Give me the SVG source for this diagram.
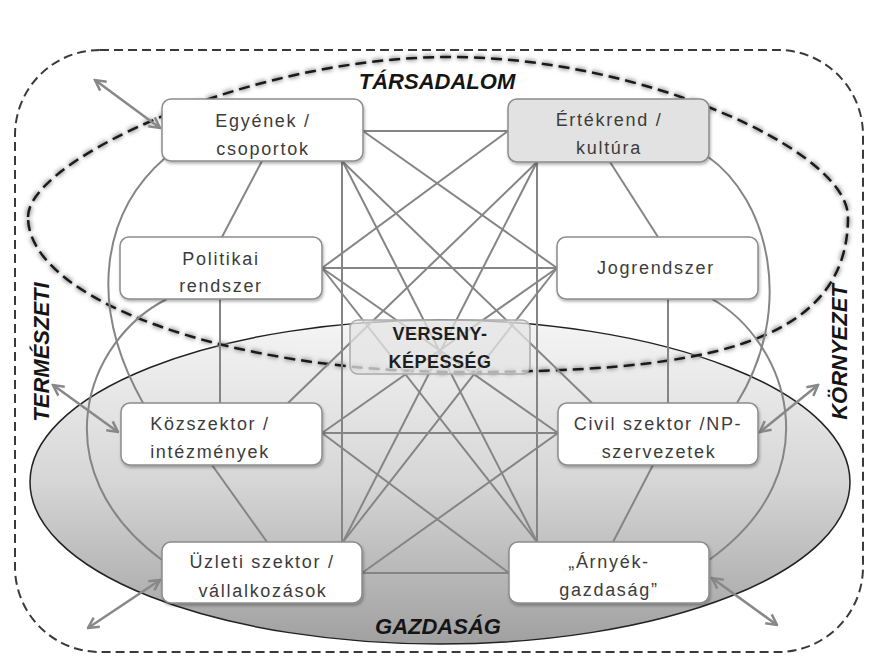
<svg xmlns="http://www.w3.org/2000/svg" width="869" height="662" viewBox="0 0 869 662">
<defs>
<linearGradient id="gz" x1="0" y1="0" x2="0" y2="1">
<stop offset="0" stop-color="#f5f5f5"/>
<stop offset="0.5" stop-color="#d6d6d6"/>
<stop offset="1" stop-color="#a0a0a0"/>
</linearGradient>
<filter id="blur" x="-5%" y="-5%" width="110%" height="110%"><feGaussianBlur stdDeviation="2"/></filter>
<filter id="sh" x="-10%" y="-10%" width="125%" height="135%"><feDropShadow dx="1" dy="2" stdDeviation="1.5" flood-color="#000" flood-opacity="0.3"/></filter>
<marker id="ah" viewBox="0 0 14 14" refX="12.5" refY="7" markerWidth="14" markerHeight="14" markerUnits="userSpaceOnUse" orient="auto-start-reverse">
<path d="M2,1.5 L12.5,7 L2,12.5" fill="none" stroke="#888" stroke-width="2.5"/>
</marker>
<path id="soc" d="M28,217 C28,160 250,57 450,57 C640,57 848,150 848,217 C848,350 690,372 460,372 C230,372 28,300 28,217 Z"/>
<style>
.node rect{fill:#fff;stroke:#8c8c8c;stroke-width:1.5;filter:url(#sh)}
.node text{font-family:"Liberation Sans",Arial,sans-serif;font-size:18px;fill:#3c3c3c;letter-spacing:1.7px;text-anchor:middle}
.conn path{fill:none;stroke:#858585;stroke-width:2}
.arr path{fill:none;stroke:#888;stroke-width:2.5;marker-start:url(#ah);marker-end:url(#ah)}
.big{font-family:"Liberation Sans",Arial,sans-serif;font-weight:bold;font-style:italic;font-size:22px;fill:#151515;text-anchor:middle}
</style>
</defs>
<rect width="869" height="662" fill="#fff"/>
<g id="kornyezet-frame">
<rect x="15" y="50" width="848" height="602" rx="85" ry="85" fill="none" stroke="#3a3a3a" stroke-width="2" stroke-dasharray="9 5"/>
</g>
<g id="gazdasag">
<ellipse cx="440" cy="482" rx="410" ry="162" fill="url(#gz)" stroke="#222" stroke-width="1.5"/>
</g>
<g id="tarsadalom">
<use href="#soc" fill="none" stroke="#999" stroke-width="5" stroke-dasharray="11 6" filter="url(#blur)"/>
<use href="#soc" fill="none" stroke="#1a1a1a" stroke-width="2.5" stroke-dasharray="11 6"/>
</g>
<g id="connectors" class="conn">
<path d="M363,131 H508"/>
<path d="M363,131 L557,268"/>
<path d="M508,131 L322,268"/>
<path d="M322,268 H557"/>
<path d="M342,161 V542"/>
<path d="M537,162 V542"/>
<path d="M343,162 L537,542"/>
<path d="M537,162 L343,542"/>
<path d="M343,162 L592,403"/>
<path d="M537,162 L288,403"/>
<path d="M322,268 L558,433"/>
<path d="M557,268 L322,433"/>
<path d="M322,268 L537,542"/>
<path d="M557,268 L343,542"/>
<path d="M322,433 H558"/>
<path d="M322,433 L509,573"/>
<path d="M558,433 L362,573"/>
<path d="M362,573 H509"/>
<path d="M262,161 L222,237"/>
<path d="M220,299 V403"/>
<path d="M212,465 L267,542"/>
<path d="M610,162 L658,237"/>
<path d="M668,299 V403"/>
<path d="M653,465 L613,542"/>
<path d="M165,158 C105,210 85,300 143,403"/>
<path d="M167,299 C85,340 40,470 162,560"/>
<path d="M707,156 C770,200 795,310 737,403"/>
<path d="M712,299 C785,340 835,470 709,560"/>
</g>
<g id="arrows" class="arr">
<path d="M95,80 L160,128"/>
<path d="M53,385 L118,432"/>
<path d="M88,628 L160,580"/>
<path d="M818,385 L760,432"/>
<path d="M777,625 L712,578"/>
</g>
<g id="egyenek" class="node">
<rect x="162" y="99" width="201" height="62" rx="9"/>
<text x="263" y="127">Egyének /</text>
<text x="263" y="155">csoportok</text>
</g>
<g id="ertekrend" class="node">
<rect x="508" y="99" width="201" height="63" rx="9" style="fill:#e2e2e2"/>
<text x="609" y="126">Értékrend /</text>
<text x="609" y="154">kultúra</text>
</g>
<g id="politikai" class="node">
<rect x="120" y="237" width="202" height="62" rx="9"/>
<text x="221" y="265">Politikai</text>
<text x="221" y="292">rendszer</text>
</g>
<g id="jogrendszer" class="node">
<rect x="557" y="237" width="201" height="62" rx="9"/>
<text x="656" y="274">Jogrendszer</text>
</g>
<g id="kozszektor" class="node">
<rect x="121" y="403" width="201" height="62" rx="9"/>
<text x="210" y="430">Közszektor /</text>
<text x="210" y="458">intézmények</text>
</g>
<g id="civil" class="node">
<rect x="558" y="403" width="200" height="62" rx="9"/>
<text x="658" y="430">Civil szektor /NP-</text>
<text x="659" y="458">szervezetek</text>
</g>
<g id="uzleti" class="node">
<rect x="162" y="542" width="200" height="61" rx="9"/>
<text x="262" y="568">Üzleti szektor /</text>
<text x="263" y="597">vállalkozások</text>
</g>
<g id="arnyek" class="node">
<rect x="509" y="542" width="200" height="61" rx="9"/>
<text x="609" y="568">„Árnyék-</text>
<text x="609" y="596">gazdaság”</text>
</g>
<g id="versenykepesseg">
<rect x="350" y="320" width="180" height="54" rx="8" fill="#e4e4e4" fill-opacity="0.75" stroke="#aaa" stroke-width="1.5"/>
<text x="440" y="340" font-family="'Liberation Sans',Arial,sans-serif" font-weight="bold" font-size="18" fill="#1e1e1e" text-anchor="middle" letter-spacing="0.5">VERSENY-</text>
<text x="440" y="368" font-family="'Liberation Sans',Arial,sans-serif" font-weight="bold" font-size="18" fill="#1e1e1e" text-anchor="middle" letter-spacing="0.5">KÉPESSÉG</text>
</g>
<g id="labels">
<text class="big" x="437" y="89">TÁRSADALOM</text>
<text class="big" x="438" y="634">GAZDASÁG</text>
<text class="big" transform="translate(49,352) rotate(-90)">TERMÉSZETI</text>
<text class="big" transform="translate(847,352) rotate(-90)">KÖRNYEZET</text>
</g>
</svg>
